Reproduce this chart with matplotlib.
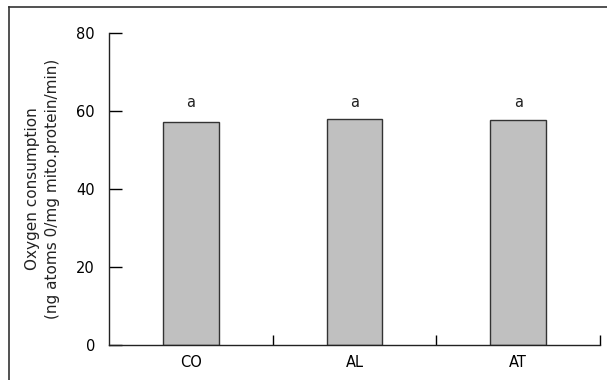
import matplotlib
matplotlib.use("Agg")
import matplotlib.pyplot as plt
from matplotlib.lines import Line2D

categories = ["CO", "AL", "AT"]
values = [57.2, 57.9, 57.8]
letters = ["a", "a", "a"]
yticks = [0, 20, 40, 60, 80]

plt.rcParams['font.family'] = ['DejaVu Sans']
fig = plt.figure(figsize=(6.07, 3.80), dpi=100)
ax = fig.add_axes([109/607, 1-345/380, (600-109)/607, (345-33)/380])

x = list(range(len(categories)))
ax.bar(x, values, width=0.34, color="#c0c0c0", edgecolor="#333333", linewidth=1.0)
for xi, v, t in zip(x, values, letters):
    ax.text(xi, 62.2, t, ha="center", va="center", fontsize=10.5, color="#222222")

ax.set_xlim(-0.5, 2.5)
ax.set_ylim(0, 80)
ax.set_yticks(yticks)
ax.set_xticks(x)
ax.set_xticklabels(categories, fontsize=10.5)
ax.set_xticks([0.5, 1.5, 2.5], minor=True)
ax.tick_params(axis="x", which="major", length=0, pad=7)
ax.tick_params(axis="x", which="minor", direction="in", length=7, width=1)
ax.tick_params(axis="y", direction="in", length=9, width=1, labelsize=10.5, pad=10)
for s in ["top", "right"]:
    ax.spines[s].set_visible(False)
for s in ["left", "bottom"]:
    ax.spines[s].set_linewidth(1)
    ax.spines[s].set_color("#222222")
ax.set_ylabel("Oxygen consumption\n(ng atoms 0/mg mito.protein/min)", fontsize=11,
              linespacing=1.35, labelpad=12, color="#222222")

fig.add_artist(Line2D([9/607, 1.0], [1-7/380, 1-7/380], transform=fig.transFigure,
                      color="#333333", linewidth=1.2))
fig.add_artist(Line2D([9/607, 9/607], [0, 1-7/380], transform=fig.transFigure,
                      color="#333333", linewidth=1.2))

fig.savefig("out.png", dpi=100)
